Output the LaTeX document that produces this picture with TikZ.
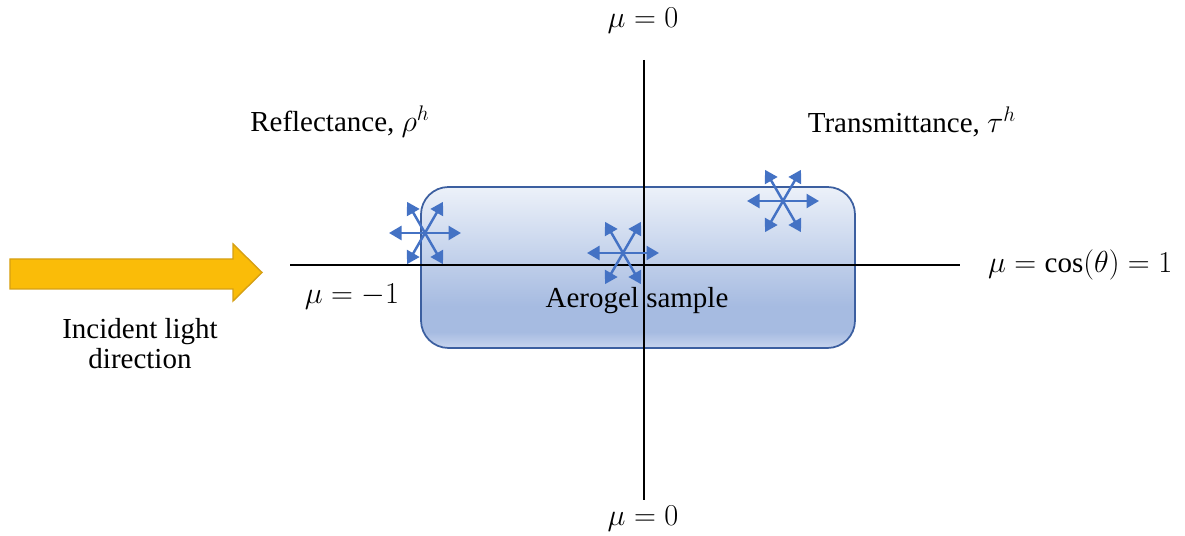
\documentclass[tikz,border=0pt]{standalone}
\usepackage{fontspec}
\setmainfont{Liberation Serif}
\usepackage{tikz}
\usetikzlibrary{arrows.meta,calc}
\definecolor{gel}{RGB}{68,114,196}
\definecolor{gelrim}{RGB}{60,95,160}
\definecolor{geltop}{RGB}{236,241,249}
\definecolor{gelmid}{RGB}{166,187,225}
\definecolor{gelbot}{RGB}{200,213,238}
\definecolor{sun}{RGB}{250,188,8}
\definecolor{sunrim}{RGB}{214,160,20}
\pgfdeclareverticalshading{gelshade}{100bp}{color(0bp)=(gelbot); color(25bp)=(gelbot);
  color(30bp)=(gelmid); color(38bp)=(gelmid); color(75bp)=(geltop); color(100bp)=(geltop)}

\begin{document}
\begin{tikzpicture}[font=\fontsize{16.5}{17}\selectfont,
  ax/.style={line width=0.9pt},
  sc/.style={{Triangle[length=2.5mm,width=2.8mm]}-{Triangle[length=2.5mm,width=2.8mm]},
             gel,line width=1.4pt},
  lbl/.style={align=center,inner sep=1pt}]
  \useasboundingbox (0,0) rectangle (23.7,10.72);
  % sample
  \draw[gelrim,line width=1pt,rounded corners=0.55cm,shading=gelshade]
    (8.42,3.76) rectangle (17.1,6.98);
  % axes
  \coordinate (xl) at (5.8,5.42); \coordinate (xr) at (19.2,5.42);
  \coordinate (yt) at (12.88,9.52); \coordinate (yb) at (12.88,0.72);
  \draw[ax] (xl) -- (xr);
  \draw[ax] (yt) -- (yb);
  % incident light
  \draw[sunrim,fill=sun,line width=0.8pt]
    (0.2,5.54) -- (4.66,5.54) -- (4.66,5.84) -- (5.24,5.27)
    -- (4.66,4.70) -- (4.66,4.94) -- (0.2,4.94) -- cycle;
  \node[lbl] (inc) at (2.8,3.84) {Incident light\\direction};
  % labels
  \node[lbl] (mt) at (12.86,10.3) {$\mu=0$};
  \node[lbl] (mb) at (12.86,0.34) {$\mu=0$};
  \node[lbl] (mneg) at (7.04,4.78) {$\mu=-1$};
  \node[lbl,anchor=west] (mpos) at (19.72,5.42) {$\mu=\cos(\theta)=1$};
  \node[lbl] (refl) at (6.8,8.28) {Reflectance, $\rho^h$};
  \node[lbl] (tran) at (18.24,8.28) {Transmittance, $\tau^h$};
  \node[lbl] (gel) at (12.74,4.7) {Aerogel sample};
  % scattering stars
  \coordinate (s1) at (8.5,6.06);
  \coordinate (s2) at (12.46,5.66);
  \coordinate (s3) at (15.66,6.7);
  \foreach \s in {s1,s2,s3}
    \foreach \a in {0,60,120}
      \draw[sc] ($(\s)+(\a:0.72)$) -- ($(\s)+(\a+180:0.72)$);
\end{tikzpicture}
\end{document}
